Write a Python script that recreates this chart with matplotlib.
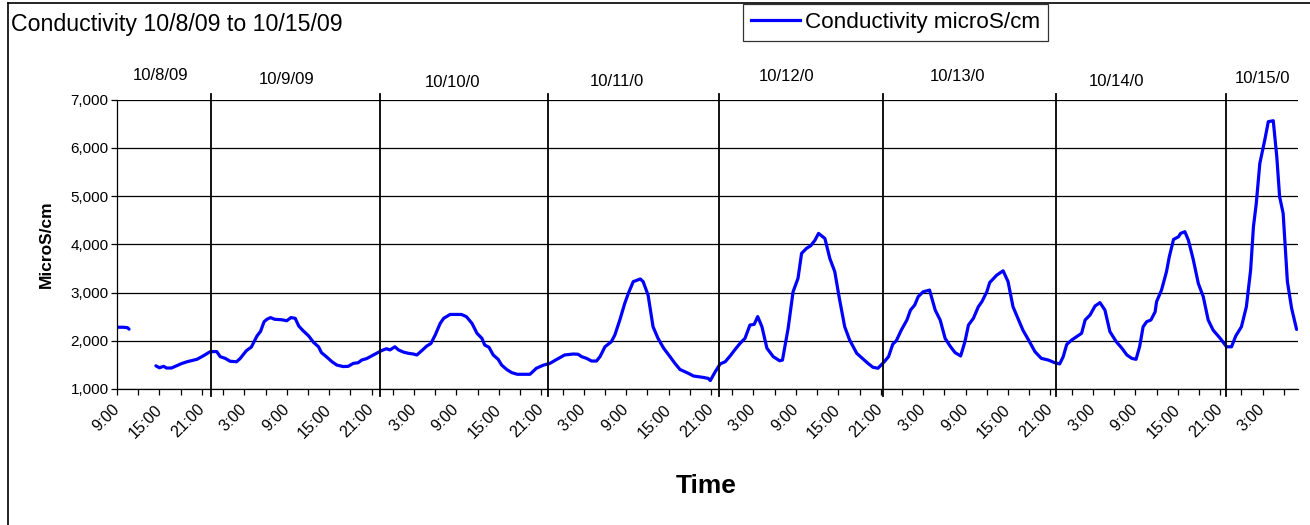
import numpy as np
import matplotlib
matplotlib.use("Agg")
import matplotlib.pyplot as plt
from matplotlib.lines import Line2D
from matplotlib.ticker import FuncFormatter

plt.rcParams['font.family'] = ['Liberation Sans', 'DejaVu Sans']

# hours since 10/8/09 9:00 and conductivity (microS/cm); nan marks the gap in the record
hours = [
    0.2, 0.9, 1.5, 1.7, 3.6,
    5.5, 6.0, 6.6, 7.0, 7.7, 8.4, 9.1, 9.9, 10.6, 11.3, 12.0, 12.7, 13.2, 14.1, 14.6,
    15.3, 16.0, 16.9, 17.4, 18.3, 19.0, 19.8, 20.3, 20.8, 21.2, 21.7, 22.3, 23.3, 24.0,
    24.6, 25.2, 25.7, 26.3, 27.1, 27.8, 28.5, 28.9, 29.6, 30.4, 31.1, 32.0, 32.7, 33.4,
    34.1, 34.6, 35.3, 36.0, 36.7, 37.4, 38.1, 38.6, 39.3, 39.8, 40.5, 41.2, 41.9, 42.4,
    43.1, 43.8, 44.4, 45.0, 45.7, 46.2, 47.1, 48.7, 49.4, 50.2, 50.9, 51.6, 52.0, 52.6,
    53.2, 53.9, 54.4, 55.1, 55.8, 56.6, 58.4, 59.3, 60.3, 61.2, 62.2, 63.3, 64.5, 65.2,
    65.7, 66.4, 67.1, 67.8, 68.3, 69.0, 69.9, 70.4, 71.1, 71.8, 72.3, 73.0, 74.0, 74.4,
    75.1, 75.8, 76.5, 77.3, 78.2, 78.9, 79.6, 80.8, 81.5, 82.9, 83.6, 83.9, 84.6, 85.3,
    86.0, 86.7, 87.4, 88.1, 88.8, 89.5, 90.1, 90.6, 91.2, 91.9, 92.8, 93.7, 94.1, 94.9,
    95.6, 96.3, 96.8, 97.5, 98.1, 98.7, 99.2, 100.1, 100.8, 101.5, 102.1, 102.9, 103.6,
    104.6, 105.4, 106.2, 106.9, 107.6, 108.5, 109.1, 109.7, 110.2, 110.9, 111.7, 112.2,
    112.8, 113.3, 114.0, 114.9, 115.7, 116.4, 117.1, 117.8, 118.5, 119.3, 119.9, 120.4,
    121.1, 121.8, 122.3, 123.0, 123.4, 124.4, 125.3, 126.0, 126.7, 127.4, 128.1, 128.9,
    129.8, 130.7, 131.7, 132.6, 133.3, 133.8, 134.3, 135.0, 135.7, 136.4, 136.9, 137.6,
    138.3, 139.0, 139.7, 140.4, 141.3, 142.1, 142.8, 143.5, 144.1, 144.6, 145.1, 145.6,
    146.2, 146.8, 147.0, 147.7, 148.4, 148.8, 149.4, 150.1, 150.4, 151.0, 151.5, 152.2,
    152.9, 153.6, 154.3, 155.0, 156.0, 156.9, 157.6, 158.2, 159.0, 159.7, 160.3, 160.7,
    161.1, 161.6, 162.3, 162.8, 163.5, 164.0, 164.4, 164.9, 165.5, 166.1, 166.8,
]
cond = [
    2280, 2280, 2270, 2240, np.nan,
    1480, 1440, 1470, 1435, 1435, 1480, 1525, 1565, 1590, 1615, 1670, 1730, 1775, 1775, 1670,
    1635, 1575, 1565, 1630, 1795, 1870, 2100, 2195, 2395, 2445, 2480, 2445, 2435, 2415,
    2480, 2465, 2305, 2210, 2100, 1965, 1875, 1755, 1670, 1565, 1495, 1465, 1470, 1530,
    1545, 1600, 1630, 1685, 1740, 1795, 1835, 1810, 1875, 1810, 1765, 1740, 1725, 1705,
    1795, 1890, 1945, 2120, 2360, 2465, 2545, 2545, 2500, 2360, 2155, 2050, 1910, 1865,
    1705, 1615, 1495, 1405, 1340, 1305, 1305, 1430, 1495, 1530, 1615, 1705, 1725, 1720,
    1670, 1635, 1580, 1580, 1670, 1875, 1980, 2120, 2430, 2775, 2980, 3225, 3280, 3225,
    2945, 2290, 2050, 1845, 1670, 1530, 1405, 1325, 1270, 1240, 1220, 1175, 1360, 1520,
    1565, 1685, 1820, 1945, 2050, 2325, 2340, 2500, 2290, 1845, 1670, 1585, 1600, 2255,
    3015, 3295, 3810, 3915, 3970, 4085, 4225, 4120, 3705, 3430, 2915, 2290, 2015,
    1740, 1635, 1530, 1450, 1430, 1565, 1670, 1930, 2000, 2220, 2430, 2635,
    2740, 2915, 3015, 3050, 2635, 2430, 2050, 1890, 1755, 1685, 1980, 2325,
    2465, 2705, 2810, 3015, 3205, 3360, 3450, 3225, 2705, 2465, 2220, 2015,
    1775, 1635, 1600, 1545, 1520, 1670, 1925, 2015, 2085, 2155, 2430, 2535,
    2720, 2790, 2635, 2190, 1980, 1845, 1705, 1635, 1615, 1875, 2290, 2395,
    2430, 2600, 2810, 3050, 3430, 3740, 4100, 4155, 4225, 4260, 4085, 3675,
    3190, 2915, 2430, 2220, 2050, 1875, 1875, 2100, 2290, 2705, 3465, 4365,
    4845, 5675, 6160, 6540, 6560, 5815, 4985, 4640, 3225, 2670, 2235,
]

tick_labels = ['9:00', '15:00', '21:00', '3:00'] * 7
day_labels = ['10/8/09', '10/9/09', '10/10/0', '10/11/0', '10/12/0', '10/13/0', '10/14/0', '10/15/0']
# hand drawn day separators (hours since start)
day_lines = [13.3, 37.2, 60.9, 85.1, 108.3, 132.8, 156.8]
day_label_x = [6.1, 24.0, 47.5, 70.7, 94.7, 118.8, 141.4, 162.0]
day_label_y = [7490, 7420, 7350, 7370, 7480, 7480, 7370, 7440]

fig = plt.figure(figsize=(13.1, 5.25), dpi=100)
W, H = 1310, 525
ax = fig.add_axes([117 / W, 1 - 389 / H, (1298 - 117) / W, (389 - 99.5) / H])

ax.plot(hours, cond, color='#0000FF', lw=2.3, solid_joinstyle='round', solid_capstyle='round')

ax.set_xlim(0, 167)
ax.set_ylim(1000, 7000)
ax.set_yticks(range(1000, 7001, 1000))
ax.yaxis.set_major_formatter(FuncFormatter(lambda v, p: f'{v:,.0f}'))
ax.grid(axis='y', color='black', lw=0.9)
ax.set_axisbelow(True)

xt = np.arange(0, 166, 3)
ax.set_xticks(xt)
ax.set_xticklabels([tick_labels[i // 2] if i % 2 == 0 else '' for i in range(len(xt))],
                   rotation=45, ha='right', va='center', rotation_mode='anchor', fontsize=11.5)
ax.tick_params(axis='x', length=4, width=0.9, color='black', pad=9)
ax.tick_params(axis='y', length=4, width=0.9, color='black', labelsize=11, pad=2)

for s in ['top', 'right']:
    ax.spines[s].set_visible(False)
for s in ['left', 'bottom']:
    ax.spines[s].set_linewidth(0.9)
    ax.spines[s].set_color('black')

for x in day_lines:
    ax.plot([x, x], [855, 7110], color='black', lw=1.3, clip_on=False, zorder=3)
for lab, x, y in zip(day_labels, day_label_x, day_label_y):
    ax.text(x, y, lab, ha='center', va='center', fontsize=12)

ax.set_ylabel('MicroS/cm', fontsize=12.5, fontweight='bold', labelpad=12)
fig.text(706 / W, 1 - 486 / H, 'Time', ha='center', va='center', fontsize=19, fontweight='bold')
fig.text(11 / W, 1 - 24 / H, 'Conductivity 10/8/09 to 10/15/09', ha='left', va='center', fontsize=16.7)

handle = Line2D([], [], color='#0000FF', lw=2.3)
leg = fig.legend([handle], ['Conductivity microS/cm'], loc='upper left',
                 bbox_to_anchor=(743 / W, 1 - 4 / H), frameon=True, fancybox=False,
                 fontsize=16.2, handlelength=2.2, handletextpad=0.2, borderpad=0.35,
                 borderaxespad=0)
leg.get_frame().set_edgecolor('black')
leg.get_frame().set_linewidth(0.9)

# outer chart border (only left and top are visible in the image)
fig.add_artist(Line2D([8 / W, 8 / W], [0, 1 - 3 / H], color='black', lw=1.2))
fig.add_artist(Line2D([8 / W, 1], [1 - 3 / H, 1 - 3 / H], color='black', lw=1.2))

fig.savefig('out.png', dpi=100)
